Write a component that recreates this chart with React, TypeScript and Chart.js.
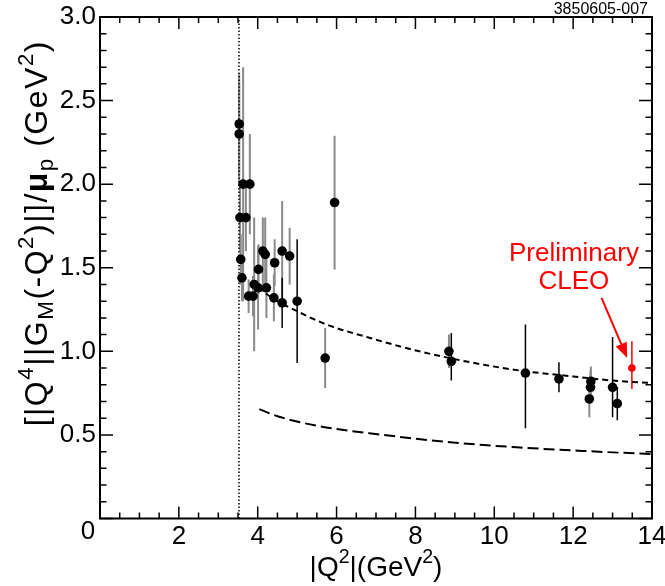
import { useEffect, useRef } from 'react';
import { Chart, registerables } from 'chart.js';
Chart.register(...registerables);

const FONT = '"Liberation Sans", Arial, Helvetica, sans-serif';

// axis tick labels
const xTickValues = [0, 2, 4, 6, 8, 10, 12, 14];
const yTickValues = [0, 0.5, 1.0, 1.5, 2.0, 2.5, 3.0];

// measurements with grey error bars
const greyX = [3.53, 3.53, 3.63, 3.80, 3.55, 3.70, 3.57, 3.60, 3.91, 4.01, 4.13, 4.19, 4.02, 4.22, 3.77, 3.88, 4.43, 4.41, 4.62, 4.81, 5.71, 5.95, 8.85, 12.45, 12.44, 12.41];
const greyY = [2.36, 2.30, 2.00, 2.00, 1.80, 1.80, 1.55, 1.44, 1.40, 1.38, 1.60, 1.58, 1.49, 1.38, 1.33, 1.33, 1.53, 1.32, 1.60, 1.57, 0.96, 1.89, 1.00, 0.82, 0.785, 0.715];
const greyErr = [0.30, 0.30, 0.70, 0.30, 0.20, 0.20, 0.15, 0.14, 0.40, 0.25, 0.20, 0.22, 0.15, 0.18, 0.10, 0.12, 0.14, 0.14, 0.30, 0.17, 0.18, 0.40, 0.10, 0.09, 0.10, 0.11];

// measurements with black error bars
const blackX = [4.62, 5.00, 8.91, 10.79, 11.64, 13.00, 13.12];
const blackY = [1.29, 1.30, 0.94, 0.87, 0.835, 0.785, 0.687];
const blackErrUp = [0.15, 0.37, 0.17, 0.29, 0.10, 0.30, 0.10];
const blackErrDown = [0.15, 0.37, 0.115, 0.33, 0.08, 0.18, 0.10];

// preliminary CLEO point
const cleoX = [13.49];
const cleoY = [0.90];
const cleoErrUp = [0.16];
const cleoErrDown = [0.125];

// theory curves
const upperX = [4.0, 4.5, 5.0, 5.75, 6.85, 8.1, 9.5, 10.65, 12.0, 13.0, 14.0];
const upperY = [1.38, 1.30, 1.24, 1.16, 1.08, 1.00, 0.93, 0.885, 0.85, 0.825, 0.81];
const lowerX = [4.04, 4.5, 5.5, 7.19, 8.88, 10.57, 12.26, 14.0];
const lowerY = [0.654, 0.612, 0.555, 0.50, 0.456, 0.426, 0.404, 0.385];

// threshold line (4 m_p^2)
const thresholdX = 3.525;

// annotation
const noteLines = ['Preliminary', 'CLEO'];
const noteX = 12.02;
const noteBaselineY = [1.54, 1.37];
const arrowFrom = [12.72, 1.32];
const arrowTo = [13.37, 0.96];
const figureId = '3850605-007';

type Seg = { t: string; k?: 'sup' | 'sub'; b?: boolean };
const yTitle: Seg[] = [
  { t: '[|Q' }, { t: '4', k: 'sup' }, { t: '||G' }, { t: 'M', k: 'sub' }, { t: '(-Q' }, { t: '2', k: 'sup' },
  { t: ')|]/' }, { t: 'μ', b: true }, { t: 'p', k: 'sub' }, { t: ' (GeV' }, { t: '2', k: 'sup' }, { t: ')' },
];
const xTitle: Seg[] = [{ t: '|Q' }, { t: '2', k: 'sup' }, { t: '|(GeV' }, { t: '2', k: 'sup' }, { t: ')' }];

const pts = (xs: number[], ys: number[]) => xs.map((x, i) => ({ x, y: ys[i] }));

function segFont(s: Seg, size: number) {
  const fs = s.k ? size * 0.7 : size;
  return `${s.b ? 'bold ' : ''}${fs}px ${FONT}`;
}
function richWidth(ctx: CanvasRenderingContext2D, segs: Seg[], size: number, sp = 0) {
  let w = 0;
  for (const s of segs) {
    ctx.font = segFont(s, size);
    w += ctx.measureText(s.t).width + sp * s.t.length;
  }
  return w;
}
function drawRich(ctx: CanvasRenderingContext2D, segs: Seg[], x: number, y: number, size: number, sp = 0) {
  let cx = x;
  ctx.textBaseline = 'alphabetic';
  ctx.textAlign = 'left';
  for (const s of segs) {
    ctx.font = segFont(s, size);
    const dy = s.k === 'sup' ? -size * 0.45 : s.k === 'sub' ? size * 0.2 : 0;
    for (const ch of s.t) {
      ctx.fillText(ch, cx, y + dy);
      cx += ctx.measureText(ch).width + sp;
    }
  }
}

const decor = {
  id: 'decor',
  beforeDatasetsDraw(chart: any) {
    const { ctx, chartArea: a, scales: { x, y } } = chart;
    ctx.save();
    ctx.beginPath();
    ctx.rect(a.left, a.top, a.right - a.left, a.bottom - a.top);
    ctx.clip();
    const bars = (xs: number[], ys: number[], up: number[], dn: number[], color: string, w: number) => {
      ctx.strokeStyle = color;
      ctx.lineWidth = w;
      xs.forEach((xv, i) => {
        const px = x.getPixelForValue(xv);
        ctx.beginPath();
        ctx.moveTo(px, y.getPixelForValue(ys[i] + up[i]));
        ctx.lineTo(px, y.getPixelForValue(ys[i] - dn[i]));
        ctx.stroke();
      });
    };
    bars(greyX, greyY, greyErr, greyErr, '#8a8a8a', 2);
    bars(blackX, blackY, blackErrUp, blackErrDown, '#000', 1.5);
    bars(cleoX, cleoY, cleoErrUp, cleoErrDown, '#ff0000', 1.5);
    ctx.restore();
  },
  afterDraw(chart: any) {
    const { ctx, chartArea: a, scales: { x, y } } = chart;
    ctx.save();
    // ticks (inward, all four sides)
    ctx.strokeStyle = '#000';
    ctx.lineWidth = 1.5;
    ctx.beginPath();
    for (let i = 0; i <= 28; i++) {
      const px = x.getPixelForValue(i * 0.5);
      const len = i % 4 === 0 ? 12 : 6;
      ctx.moveTo(px, a.bottom); ctx.lineTo(px, a.bottom - len);
      ctx.moveTo(px, a.top); ctx.lineTo(px, a.top + len);
    }
    for (let i = 0; i <= 30; i++) {
      const py = y.getPixelForValue(i * 0.1);
      const len = i % 5 === 0 ? 13 : 6.5;
      ctx.moveTo(a.left, py); ctx.lineTo(a.left + len, py);
      ctx.moveTo(a.right, py); ctx.lineTo(a.right - len, py);
    }
    ctx.stroke();
    // frame
    ctx.lineWidth = 2;
    ctx.strokeRect(a.left, a.top, a.right - a.left, a.bottom - a.top);

    ctx.fillStyle = '#000';
    // shared zero label at the corner
    ctx.font = `26px ${FONT}`;
    ctx.textAlign = 'center';
    ctx.textBaseline = 'middle';
    ctx.fillText('0', a.left - 12, a.bottom + 13);

    // x title
    const xw = richWidth(ctx, xTitle, 28);
    drawRich(ctx, xTitle, (a.left + a.right) / 2 - xw / 2, 576, 28);

    // y title (rotated)
    const yw = richWidth(ctx, yTitle, 32, 1.5);
    ctx.save();
    ctx.translate(47, 40 + yw);
    ctx.rotate(-Math.PI / 2);
    drawRich(ctx, yTitle, 0, 0, 32, 1.5);
    ctx.restore();

    // figure id
    ctx.font = `16px ${FONT}`;
    ctx.textAlign = 'right';
    ctx.textBaseline = 'alphabetic';
    ctx.fillText(figureId, a.right - 4, 14);

    // annotation
    ctx.fillStyle = '#ff0000';
    ctx.strokeStyle = '#ff0000';
    ctx.font = `26px ${FONT}`;
    ctx.textAlign = 'center';
    noteLines.forEach((t, i) => ctx.fillText(t, x.getPixelForValue(noteX), y.getPixelForValue(noteBaselineY[i])));
    const x0 = x.getPixelForValue(arrowFrom[0]), y0 = y.getPixelForValue(arrowFrom[1]);
    const x1 = x.getPixelForValue(arrowTo[0]), y1 = y.getPixelForValue(arrowTo[1]);
    const ang = Math.atan2(y1 - y0, x1 - x0);
    const hl = 15, hw = 6;
    const bx = x1 - hl * Math.cos(ang), by = y1 - hl * Math.sin(ang);
    ctx.lineWidth = 2;
    ctx.beginPath(); ctx.moveTo(x0, y0); ctx.lineTo(bx, by); ctx.stroke();
    ctx.beginPath();
    ctx.moveTo(x1, y1);
    ctx.lineTo(bx + hw * Math.sin(ang), by - hw * Math.cos(ang));
    ctx.lineTo(bx - hw * Math.sin(ang), by + hw * Math.cos(ang));
    ctx.closePath();
    ctx.fill();
    ctx.restore();
  },
};

export default function App() {
  const ref = useRef<HTMLCanvasElement>(null);
  useEffect(() => {
    document.body.style.margin = '0';
    const chart = new Chart(ref.current!, {
      type: 'scatter',
      data: {
        datasets: [
          { data: pts(upperX, upperY), showLine: true, borderColor: '#000', borderWidth: 2, borderDash: [6, 4], pointRadius: 0, cubicInterpolationMode: 'monotone' } as any,
          { data: pts(lowerX, lowerY), showLine: true, borderColor: '#000', borderWidth: 2, borderDash: [11, 5], pointRadius: 0, cubicInterpolationMode: 'monotone' } as any,
          { data: [{ x: thresholdX, y: 0 }, { x: thresholdX, y: 3 }], showLine: true, borderColor: '#000', borderWidth: 1.5, borderDash: [1.5, 2], pointRadius: 0 } as any,
          { data: pts(greyX, greyY), pointRadius: 4.8, pointBackgroundColor: '#000', pointBorderWidth: 0, borderWidth: 0 },
          { data: pts(blackX, blackY), pointRadius: 4.8, pointBackgroundColor: '#000', pointBorderWidth: 0, borderWidth: 0 },
          { data: pts(cleoX, cleoY), pointRadius: 3.8, pointBackgroundColor: '#ff0000', pointBorderWidth: 0, borderWidth: 0 },
        ],
      },
      options: {
        responsive: false,
        animation: false,
        layout: { padding: { top: 17, right: 13, left: 0, bottom: 0 } },
        plugins: { legend: { display: false }, tooltip: { enabled: false } },
        scales: {
          x: {
            type: 'linear', min: 0, max: 14,
            grid: { display: false, drawTicks: false },
            border: { display: false },
            afterBuildTicks: (s: any) => { s.ticks = xTickValues.map(v => ({ value: v })); },
            afterFit: (s: any) => { s.height = 67.5; s.paddingLeft = 0; s.paddingRight = 0; },
            ticks: {
              color: '#000', font: { family: FONT, size: 26 }, padding: 3, maxRotation: 0, autoSkip: false,
              callback: (v: any) => (v === 0 ? '' : String(v)),
            },
          },
          y: {
            type: 'linear', min: 0, max: 3,
            grid: { display: false, drawTicks: false },
            border: { display: false },
            afterBuildTicks: (s: any) => { s.ticks = yTickValues.map(v => ({ value: v })); },
            afterFit: (s: any) => { s.width = 100; s.paddingTop = 0; s.paddingBottom = 0; },
            ticks: {
              color: '#000', font: { family: FONT, size: 26 }, padding: 4, autoSkip: false,
              callback: (v: any) => (v === 0 ? '' : Number(v).toFixed(1)),
            },
          },
        },
      },
      plugins: [decor],
    });
    return () => chart.destroy();
  }, []);
  return (
    <div style={{ width: 665, height: 586 }}>
      <canvas ref={ref} width={665} height={586} style={{ display: 'block' }} />
    </div>
  );
}
